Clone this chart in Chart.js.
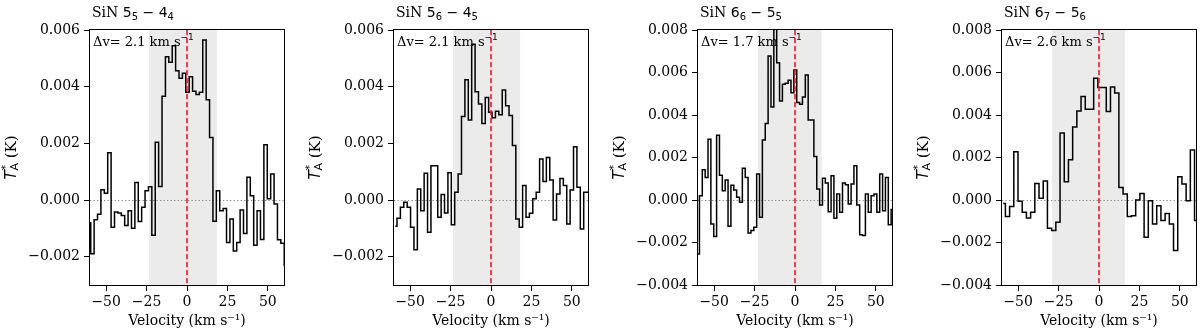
<!DOCTYPE html>
<html>
<head>
<meta charset="utf-8">
<title>SiN line profiles</title>
<script src="https://cdn.jsdelivr.net/npm/chart.js@4.4.1/dist/chart.umd.min.js"></script>
<style>
  html, body { margin: 0; padding: 0; background: #fff; }
  body { width: 1200px; height: 334px; position: relative; overflow: hidden; }
  canvas { position: absolute; top: 0; }
</style>
</head>
<body>
<canvas id="sin0" width="300" height="334"></canvas>
<canvas id="sin1" width="300" height="334"></canvas>
<canvas id="sin2" width="300" height="334"></canvas>
<canvas id="sin3" width="300" height="334"></canvas>
<script>
// spectral grid of each panel: centre of first channel and channel width (km/s)
var velStart = [-60.6, -59.2, -60.0, -59.2];
var velStep = [2.1, 2.1, 1.77, 2.6];

// antenna temperature per channel (K)
var sin55_44 = [-0.0008, -0.0019, -0.0007, -0.0005, 0.00036, 0.00024, 0.00167, -0.00096, -0.00042, -0.00046,
    -0.00055, -0.0009, -0.00038, -0.001, 0.00062, -0.00076, -0.00026, 0.00033, 0.00047, -0.00124,
    0.00204, 0.00048, 0.00366, 0.00506, 0.00486, 0.00544, 0.00456, 0.0043, 0.00447, 0.0038,
    0.00435, 0.00384, 0.00372, 0.0038, 0.00565, 0.00354, 0.00221, -0.00075, 0.00033, -0.00038,
    -0.0003, -0.0015, -0.00067, -0.0018, -0.0015, -0.00035, -0.00118, 0.0008, 0.00015, -0.0016,
    -0.00038, -0.00139, 0.00195, 0.00004, 0.00092, -0.00014, -0.0014, -0.00153, -0.0023];
var sin56_45 = [-0.00093, -0.00064, -0.00026, -0.00008, -0.00026, -0.00096, -0.00176, 0.00039, -0.00038, 0.00094,
    -0.00114, 0.00121, 0.00121, -0.00061, 0.00019, -0.00046, 0.00096, -0.00087, 0.00027, 0.00092,
    0.00295, 0.00424, 0.00282, 0.0055, 0.00382, 0.00339, 0.0027, 0.00362, 0.0031, 0.0029,
    0.00313, 0.00301, 0.00388, 0.00333, 0.00298, 0.00192, -0.00067, -0.00096, 0.00051, -0.00061,
    -0.00047, 0.00004, 0.00027, 0.00145, 0.00065, 0.0015, 0.00071, -0.00071, 0.00021, 0.00076,
    0.00051, -0.00085, 0.00035, 0.00188, 0.00045, -0.00102, 0.00027, 0.00027];
var sin66_55 = [-0.00254, 0.0002, 0.00142, 0.00106, 0.00286, -0.00113, -0.00172, 0.00305, 0.00117, 0.00044,
    0.00094, -0.00124, 0.0007, 0.00047, 0.00013, -0.00011, 0.00149, 0.00106, -0.00155, -0.00144,
    -0.00128, 0.00122, -0.00081, 0.00282, 0.0036, 0.00678, 0.00438, 0.0083, 0.00646, 0.00466,
    0.00545, 0.00549, 0.00563, 0.00505, 0.00612, 0.00459, 0.00451, 0.00485, 0.00588, 0.00377,
    0.00376, 0.00205, 0.00052, -0.00023, 0.00102, 0.0008, -0.00055, 0.00114, -0.00086, 0.00028,
    -0.00058, 0.0008, 0.00072, -0.00019, 0.00075, 0.00161, -0.00023, -0.00164, -0.00167, 0.00028,
    -0.00058, 0.0002, 0.00028, -0.00058, 0.00122, -0.0005, 0.00106, -0.00116, -0.00045];
var sin67_56 = [-0.00016, -0.00078, -0.00031, 0.00227, -0.00006, -0.00058, -0.00085, -0.00058, 0.00078, 0.00008,
    0.00089, -0.00133, -0.00144, -0.00105, 0.00315, 0.00086, 0.00189, 0.00344, 0.00419, 0.00487,
    0.00427, 0.00427, 0.00573, 0.00529, 0.00529, 0.00416, 0.00532, 0.00504, 0.00059, 0.00028,
    -0.00078, -0.00074, 0.0, 0.00031, -0.00175, -0.00003, -0.00113, -0.00027, -0.00097, -0.00063,
    -0.00113, -0.00238, 0.0011, 0.00075, -0.00003, 0.00235, -0.00097];

// transition labels: N_Ka upper - N_Ka lower
var upperN = ['5', '5', '6', '6'];
var upperSub = ['5', '6', '6', '7'];
var lowerN = ['4', '4', '5', '5'];
var lowerSub = ['4', '5', '5', '6'];
var deltaV = ['2.1', '2.1', '1.7', '2.6'];

// velocity window used for the line (shaded)
var windowLo = [-23.5, -23.5, -23, -29];
var windowHi = [18.5, 18, 16.5, 16];

var yMin = [-0.003, -0.003, -0.004, -0.004];
var yMax = [0.006, 0.006, 0.008, 0.008];
var yTicksSmall = [-0.002, 0, 0.002, 0.004, 0.006];
var yTicksLarge = [-0.004, -0.002, 0, 0.002, 0.004, 0.006, 0.008];
var xTicks = [-50, -25, 0, 25, 50];

(function () {
    'use strict';

    var SERIF = '"DejaVu Serif", serif';
    var SANS = '"DejaVu Sans", sans-serif';
    var plotLefts = [90, 394, 698, 1002];
    var spectra = [sin55_44, sin56_45, sin66_55, sin67_56];

    function minus(s) {
        return s.replace('-', '\u2212');
    }

    function buildPoints(i) {
        return spectra[i].map(function (t, k) {
            return { x: velStart[i] + k * velStep[i], y: t };
        });
    }

    // draw a run of [text, font, dy, noAdvance] pieces, returns end x
    function drawPieces(ctx, pieces, x, y) {
        pieces.forEach(function (p) {
            ctx.font = p[1];
            ctx.fillText(p[0], x, y + (p[2] || 0));
            if (!p[3]) x += ctx.measureText(p[0]).width;
        });
        return x;
    }

    function measurePieces(ctx, pieces) {
        var w = 0;
        pieces.forEach(function (p) {
            ctx.font = p[1];
            if (!p[3]) w += ctx.measureText(p[0]).width;
        });
        return w;
    }

    var decorPlugin = {
        id: 'decor',
        beforeDatasetsDraw: function (chart, args, o) {
            var ctx = chart.ctx, area = chart.chartArea;
            var xs = chart.scales.x, ys = chart.scales.y;
            ctx.save();
            var x0 = xs.getPixelForValue(o.lo), x1 = xs.getPixelForValue(o.hi);
            ctx.fillStyle = '#ebebeb';
            ctx.fillRect(x0, area.top, x1 - x0, area.bottom - area.top);

            var y0 = Math.round(ys.getPixelForValue(0)) + 0.5;
            ctx.strokeStyle = '#8a8a8a';
            ctx.lineWidth = 1;
            ctx.setLineDash([1.3, 2.2]);
            ctx.beginPath();
            ctx.moveTo(area.left, y0);
            ctx.lineTo(area.right, y0);
            ctx.stroke();
            ctx.setLineDash([]);

            ctx.fillStyle = '#000';
            ctx.textBaseline = 'middle';
            ctx.textAlign = 'left';
            drawPieces(ctx, [
                ['\u0394v= ' + o.dv + ' km s', '13px ' + SERIF, 0],
                ['\u22121', '9px ' + SANS, -5]
            ], area.left + 3, area.top + 13);
            ctx.restore();
        },
        afterDatasetsDraw: function (chart) {
            var ctx = chart.ctx, area = chart.chartArea;
            var xz = chart.scales.x.getPixelForValue(0);
            ctx.save();
            ctx.strokeStyle = '#f01a1a';
            ctx.lineWidth = 1.6;
            ctx.setLineDash([5, 3]);
            ctx.beginPath();
            ctx.moveTo(xz, area.top);
            ctx.lineTo(xz, area.bottom);
            ctx.stroke();
            ctx.restore();
        },
        afterDraw: function (chart, args, o) {
            var ctx = chart.ctx, area = chart.chartArea;
            ctx.save();
            ctx.strokeStyle = '#000';
            ctx.lineWidth = 1;
            ctx.strokeRect(area.left - 0.5, area.top - 0.5, area.right - area.left + 1, area.bottom - area.top + 1);

            // panel title
            ctx.fillStyle = '#000';
            ctx.textBaseline = 'alphabetic';
            ctx.textAlign = 'left';
            drawPieces(ctx, [
                ['SiN ', '14px ' + SERIF, 0],
                [o.nu, '14px ' + SANS, 0],
                [o.ku, '10px ' + SANS, 3],
                [' \u2212 ', '14px ' + SANS, 0],
                [o.nl, '14px ' + SANS, 0],
                [o.kl, '10px ' + SANS, 3]
            ], area.left + 2, 17);

            // y axis label T*_A (K), rotated
            var pieces = [
                ['T', 'italic 15px ' + SANS, 0],
                ['*', '11px ' + SANS, -6, true],
                ['A', '11px ' + SANS, 3],
                [' (K)', '15px ' + SERIF, 0]
            ];
            ctx.translate(area.left - 78, (area.top + area.bottom) / 2);
            ctx.rotate(-Math.PI / 2);
            ctx.textBaseline = 'middle';
            var w = measurePieces(ctx, pieces);
            drawPieces(ctx, pieces, -w / 2, 0);
            ctx.restore();
        }
    };

    function renderPanel(i) {
        var canvas = document.getElementById('sin' + i);
        canvas.style.left = (plotLefts[i] - 90) + 'px';
        var yTicks = yMax[i] > 0.007 ? yTicksLarge : yTicksSmall;

        new Chart(canvas, {
            type: 'line',
            data: {
                datasets: [{
                    data: buildPoints(i),
                    stepped: 'middle',
                    borderColor: '#000',
                    borderWidth: 1.5,
                    pointRadius: 0,
                    fill: false
                }]
            },
            plugins: [decorPlugin],
            options: {
                responsive: false,
                animation: false,
                events: [],
                layout: { padding: { top: 30, right: 16, bottom: 0, left: 0 } },
                plugins: {
                    legend: { display: false },
                    tooltip: { enabled: false },
                    decor: {
                        lo: windowLo[i], hi: windowHi[i], dv: deltaV[i],
                        nu: upperN[i], ku: upperSub[i], nl: lowerN[i], kl: lowerSub[i]
                    }
                },
                scales: {
                    x: {
                        type: 'linear',
                        min: -60,
                        max: 60,
                        afterBuildTicks: function (s) {
                            s.ticks = xTicks.map(function (v) { return { value: v }; });
                        },
                        afterFit: function (s) { s.height = 49; },
                        border: { display: false },
                        grid: { drawOnChartArea: false, drawTicks: true, tickLength: 6, tickColor: '#000' },
                        ticks: {
                            color: '#000',
                            padding: 3,
                            maxRotation: 0,
                            autoSkip: false,
                            font: { family: SERIF, size: 14 },
                            callback: function (v) { return minus(String(v)); }
                        },
                        title: {
                            display: true,
                            text: 'Velocity (km s\u207b\u00b9)',
                            color: '#000',
                            font: { family: SERIF, size: 14 },
                            padding: { top: 0, bottom: 4 }
                        }
                    },
                    y: {
                        min: yMin[i],
                        max: yMax[i],
                        afterBuildTicks: function (s) {
                            s.ticks = yTicks.map(function (v) { return { value: v }; });
                        },
                        afterFit: function (s) { s.width = 90; },
                        border: { display: false },
                        grid: { drawOnChartArea: false, drawTicks: true, tickLength: 6, tickColor: '#000' },
                        ticks: {
                            color: '#000',
                            padding: 4,
                            autoSkip: false,
                            font: { family: SERIF, size: 14 },
                            callback: function (v) { return minus(v.toFixed(3)); }
                        }
                    }
                }
            }
        });
    }

    for (var i = 0; i < 4; i++) renderPanel(i);
})();
</script>
</body>
</html>
